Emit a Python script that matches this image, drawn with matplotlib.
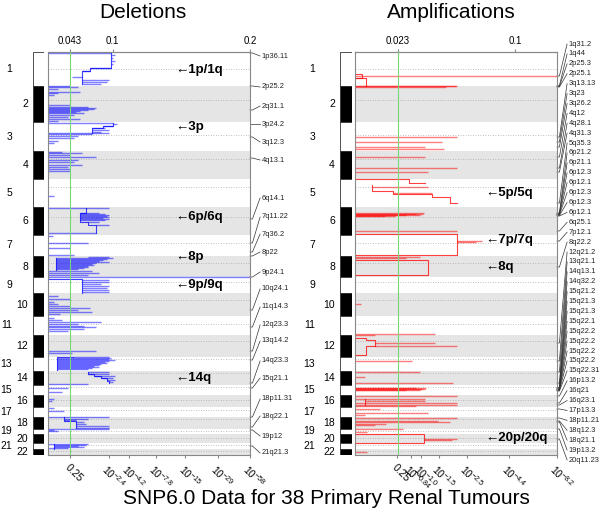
import numpy as np
import matplotlib
matplotlib.use("Agg")
import matplotlib.pyplot as plt
from matplotlib.transforms import blended_transform_factory

plt.rcParams['font.family'] = ['Liberation Sans', 'DejaVu Sans']
plt.rcParams['mathtext.fontset'] = 'custom'
plt.rcParams['mathtext.rm'] = 'Liberation Sans'
plt.rcParams['mathtext.it'] = 'Liberation Sans:italic'

# chromosome layout (height of each chromosome on the genome axis)
chrom_names = [str(i) for i in range(1, 23)]
chrom_sizes = [34, 36, 29, 28, 28, 28, 21, 21, 16, 23, 19, 22, 14, 14, 10, 12, 10, 12, 5, 9, 6, 6]
centromere_frac = [0.5, 0.39, 0.45, 0.27, 0.27, 0.35, 0.37, 0.31, 0.33, 0.3, 0.4,
                   0.27, 0.14, 0.13, 0.15, 0.42, 0.3, 0.2, 0.45, 0.46, 0.3, 0.29]

# axis scales (position on the panel axis, 0..1)
del_top_ticks = [0.109, 0.32, 1.0]
del_top_labels = ['0.043', '0.1', '0.2']
del_bottom_ticks = [0.11, 0.30, 0.40, 0.535, 0.68, 0.84, 1.0]
del_bottom_labels = ['0.25', '$10^{-2.4}$', '$10^{-4.2}$', '$10^{-7.8}$',
                     '$10^{-15}$', '$10^{-29}$', '$10^{-58}$']
del_threshold = 0.109

amp_top_ticks = [0.213, 0.792]
amp_top_labels = ['0.023', '0.1']
amp_bottom_ticks = [0.208, 0.277, 0.327, 0.416, 0.554, 0.762, 1.0]
amp_bottom_labels = ['0.25', '$10^{-0.84}$', '$10^{-1.0}$', '$10^{-1.5}$',
                     '$10^{-2.5}$', '$10^{-4.4}$', '$10^{-8.2}$']
amp_threshold = 0.213

# deletion segments: (genome position, start, end)
del_segments = [
    (0.5, 0, 0.31), (3, 0.31, 0.33), (6, 0.31, 0.32), (9, 0.31, 0.33), (12, 0.31, 0.32),
    (16, 0.21, 0.31), (19, 0.17, 0.21), (25, 0.12, 0.17), (28, 0.17, 0.30), (30, 0.17, 0.29),
    (32, 0.17, 0.26), (34, 0, 0.11), (35, 0, 0.15),
    (37, 0, 0.05), (40, 0, 0.16), (41, 0, 0.05), (43, 0, 0.03), (53, 0, 0.11), (55, 0, 0.2),
    (56, 0, 0.24), (57, 0, 0.23), (58, 0, 0.2), (59, 0, 0.16), (60, 0, 0.14), (61, 0, 0.18),
    (63, 0, 0.13), (65, 0, 0.1), (67, 0, 0.16), (69, 0, 0.05),
    (70.5, 0, 0.32), (72, 0.32, 0.34), (74, 0.27, 0.32), (76, 0.22, 0.28), (78, 0.22, 0.30),
    (80, 0.22, 0.26), (81, 0, 0.30), (82, 0, 0.22), (84, 0, 0.15), (86, 0, 0.13),
    (89, 0, 0.05), (91, 0, 0.03),
    (100, 0, 0.07), (101, 0, 0.17), (103, 0, 0.11), (105, 0, 0.24), (108, 0, 0.15),
    (110, 0, 0.13), (113, 0, 0.17), (115, 0, 0.10), (117, 0, 0.11), (119, 0, 0.11),
    (144, 0, 0.03),
    (155.5, 0, 0.30), (161, 0.16, 0.25), (162, 0.16, 0.28), (163, 0.16, 0.30),
    (164, 0.16, 0.29), (165, 0.16, 0.30), (166, 0.16, 0.27), (167, 0.16, 0.30),
    (168, 0.16, 0.28), (170, 0.2, 0.25), (173, 0.24, 0.30), (181, 0, 0.24),
    (184, 0, 0.025), (191, 0, 0.2), (196, 0, 0.11),
    (203, 0, 0.13), (205, 0.2, 0.3), (206, 0.04, 0.32), (207, 0.04, 0.29), (208, 0.04, 0.27),
    (209, 0.04, 0.25), (210, 0.04, 0.3), (211, 0.04, 0.24), (212, 0.04, 0.22),
    (213, 0.04, 0.23), (214, 0.04, 0.2), (215, 0.04, 0.2), (216, 0.04, 0.18),
    (217, 0.04, 0.15), (219, 0, 0.22), (221, 0, 0.25), (223, 0, 0.2),
    (225, 0, 1.0),
    (228, 0.168, 0.3), (230, 0.168, 0.3), (232, 0.168, 0.26), (234, 0.168, 0.3),
    (236, 0.168, 0.29), (238, 0.168, 0.3), (240, 0.168, 0.3),
    (244, 0, 0.05), (247, 0, 0.11), (250, 0, 0.03), (252, 0, 0.05), (254, 0, 0.11),
    (256, 0, 0.21), (258, 0, 0.15), (260, 0, 0.22), (262, 0, 0.06),
    (266, 0, 0.03), (268, 0, 0.07), (270, 0, 0.26), (272, 0, 0.15), (274, 0, 0.18),
    (275, 0, 0.24), (277, 0, 0.18), (279, 0, 0.1),
    (299, 0, 0.24), (301, 0, 0.12),
    (305, 0.125, 0.30), (306, 0.045, 0.31), (307, 0.045, 0.30), (308, 0.045, 0.33),
    (309, 0.045, 0.30), (310, 0.045, 0.28), (311, 0.045, 0.29), (312, 0.045, 0.26),
    (313, 0.045, 0.25), (314, 0.045, 0.23), (315, 0.045, 0.25), (316, 0.045, 0.22),
    (317, 0.045, 0.2),
    (320, 0.2, 0.3), (322, 0.2, 0.3), (324, 0.23, 0.33), (326, 0.26, 0.32),
    (328, 0.29, 0.33), (330, 0.3, 0.32), (332, 0, 0.2),
    (336, 0, 0.10), (340, 0, 0.07), (347, 0, 0.03), (349, 0, 0.02),
    (356, 0, 0.03), (359, 0, 0.08),
    (365, 0, 0.3), (367, 0.08, 0.2), (368, 0.08, 0.14), (370, 0.14, 0.18),
    (372, 0.14, 0.19), (374, 0.14, 0.3), (376, 0.14, 0.3), (377, 0, 0.3),
    (378, 0, 0.03), (379, 0, 0.05),
    (392, 0, 0.2), (393, 0.03, 0.19), (394, 0.03, 0.15), (395, 0.03, 0.18), (396, 0, 0.10),
]
del_steps = [
    [(0.31, 0.5), (0.31, 16), (0.21, 16), (0.21, 19), (0.17, 19), (0.17, 32)],
    [(0.32, 70.5), (0.32, 74), (0.27, 74), (0.27, 76), (0.22, 76), (0.22, 81)],
    [(0.19, 155.5), (0.19, 161), (0.16, 161), (0.16, 170), (0.2, 170), (0.2, 173),
     (0.24, 173), (0.24, 181)],
    [(0.04, 206), (0.04, 218)],
    [(0, 227), (0.168, 227), (0.168, 241)],
    [(0.125, 305), (0.045, 305), (0.045, 318)],
    [(0.2, 320), (0.2, 322), (0.23, 322), (0.23, 324), (0.26, 324), (0.26, 326),
     (0.29, 326), (0.29, 329), (0.30, 329), (0.30, 331)],
    [(0.08, 365), (0.08, 369), (0.14, 369), (0.14, 376)],
    [(0.03, 392), (0.03, 397)],
]

# amplification segments
amp_segments = [
    (24, 0, 1.0), (33.5, 0, 0.5), (34, 0, 0.505), (34.5, 0, 0.45),
    (85, 0, 0.505), (90, 0, 0.43), (95, 0, 0.347), (97, 0, 0.44),
    (105, 0, 0.347), (116, 0, 0.505), (120, 0, 0.36),
    (135, 0.084, 0.36), (141, 0.188, 0.38),
    (161, 0, 0.34), (161.5, 0, 0.3), (162, 0, 0.337), (162.5, 0, 0.25), (163, 0, 0.32),
    (163.5, 0, 0.2), (164, 0, 0.15), (179, 0, 0.505),
    (189, 0.505, 0.63), (189.5, 0.505, 0.6),
    (205, 0, 0.32), (206, 0, 0.25),
    (252, 0, 0.03),
    (282, 0, 0.396), (283, 0, 0.1), (291, 0.1, 0.396), (294, 0.1, 0.505),
    (309, 0, 0.282),
    (320, 0, 0.322), (325, 0, 0.05), (331, 0, 0.485),
    (335.5, 0, 0.3), (336, 0, 0.35), (336.5, 0, 0.347), (337, 0, 0.33), (337.5, 0, 0.32),
    (338, 0, 0.25),
    (344, 0, 0.505), (347, 0, 0.347), (349, 0.05, 0.347), (351, 0, 0.505),
    (353, 0, 0.505), (354, 0, 0.3),
    (357, 0, 0.124), (361, 0, 0.36), (363, 0, 0.05),
    (366, 0, 0.505), (369, 0, 0.41), (370, 0, 0.47), (372, 0, 0.153), (373, 0, 0.1),
    (377, 0, 0.238), (380, 0, 0.06),
    (387, 0.342, 0.505), (387.5, 0.342, 0.48),
    (400, 0, 0.06),
]
amp_steps = [
    [(0, 22), (0.035, 22), (0.035, 26), (0, 26)],
    [(0, 26), (0.054, 26), (0.054, 34)],
    [(0, 127), (0.267, 127), (0.267, 131), (0.347, 131)],
    [(0.084, 133), (0.084, 139), (0.188, 139), (0.188, 142), (0.381, 142), (0.381, 145),
     (0.47, 145), (0.47, 151), (0.505, 151)],
    [(0, 182), (0.505, 182), (0.505, 203), (0, 203)],
    [(0, 208), (0.36, 208), (0.36, 223), (0, 223)],
    [(0, 286), (0.054, 286), (0.054, 288), (0.1, 288), (0.1, 294)],
    [(0.1, 294), (0.054, 294), (0.054, 303), (0, 303)],
    [(0.05, 347), (0.05, 353)],
    [(0, 382), (0.342, 382), (0.342, 391), (0, 391)],
]

# cytoband labels
del_labels = ['1p36.11', '2p25.2', '2q31.1', '3p24.2', '3q12.3', '4q13.1', '6q14.1',
              '7q11.22', '7q36.2', '8p22', '9p24.1', '10q24.1', '11q14.3', '12q23.3',
              '13q14.2', '14q23.3', '15q21.1', '18p11.31', '18q22.1', '19p12', '21q21.3']
del_label_feature = [1, 34, 58, 72, 85, 106, 167, 191, 200, 204, 225, 258, 275, 299,
                     308, 331, 336, 365, 375, 378, 394]
del_label_pos = [4, 35, 54, 72, 90, 108, 146, 165, 182, 200, 220, 237, 255, 273,
                 289, 309, 326, 347, 364, 384, 401]

amp_labels = ['1q31.2', '1q44', '2p25.3', '2p25.1', '3q13.13', '3q23', '3q26.2', '4q12',
              '4q28.1', '4q31.3', '5q35.3', '6p21.2', '6p21.1', '6p12.3', '6p12.1',
              '6p12.3', '6p12.3', '6p12.1', '6q25.1', '7p12.1', '8q22.2', '12q21.2',
              '13q21.1', '14q13.1', '14q32.2', '15q21.2', '15q21.3', '15q21.3', '15q22.1',
              '15q22.2', '15q22.2', '15q22.2', '15q22.2', '15q22.31', '16p13.2', '16q21',
              '16q23.1', '17p13.3', '18p11.21', '18q12.3', '18q21.1', '19p13.2', '20q11.23']
amp_label_feature = [24, 33.5, 34.5, 35, 85, 90, 95, 105, 116, 120, 151, 161, 161.5, 162,
                     162.5, 163, 163.5, 164, 179, 189, 215, 291, 309, 320, 331, 335.5, 336,
                     336.5, 337, 337.5, 338, 338, 338.5, 339, 344, 351, 353, 357, 366, 369,
                     370, 377, 387]

del_arrows = [('1p/1q', 18), ('3p', 75), ('6p/6q', 165), ('8p', 205), ('9p/9q', 233), ('14q', 326)]
amp_arrows = [('5p/5q', 141), ('7p/7q', 188), ('8q', 215), ('20p/20q', 386)]

chrom_starts = np.concatenate([[0], np.cumsum(chrom_sizes)[:-1]])
genome_len = sum(chrom_sizes)

fig = plt.figure(figsize=(6, 5.12), dpi=100)
H = 512.0
W = 600.0
bottom = 1 - 455 / H
height = 403 / H


def draw_ideogram(ax, odd_x, even_x):
    cols = ['white' if i % 2 == 0 else 'black' for i in range(len(chrom_sizes))]
    ax.barh(chrom_starts + np.array(chrom_sizes) / 2, 1, height=chrom_sizes, left=0,
            color=cols, edgecolor='#333333', linewidth=0.6)
    ax.set_xlim(0, 1)
    ax.set_ylim(genome_len, 0)
    ax.axis('off')
    tr = blended_transform_factory(ax.transAxes, ax.transData)
    for i, name in enumerate(chrom_names):
        x = odd_x if i % 2 == 0 else even_x
        ax.text(x, chrom_starts[i] + chrom_sizes[i] / 2, name, transform=tr,
                ha='right', va='center', fontsize=7.5)


def draw_panel(ax, segs, steps, color, threshold, top_ticks, top_labels,
               bot_ticks, bot_labels, labels, feats, label_pos, arrows, arrow_x):
    for i in range(len(chrom_sizes)):
        if i % 2 == 1:
            ax.axhspan(chrom_starts[i], chrom_starts[i] + chrom_sizes[i],
                       color='#e5e5e5', lw=0, zorder=0)
    cen = chrom_starts + np.array(centromere_frac) * np.array(chrom_sizes)
    ax.hlines(cen, 0, 1, colors='#aaaaaa', linestyles=(0, (1, 2)), lw=0.6, zorder=1)

    ys = [s[0] for s in segs]
    x0 = [s[1] for s in segs]
    x1 = [s[2] for s in segs]
    ax.hlines(ys, x0, x1, colors=color, alpha=0.5, lw=1.0, zorder=2)
    for st in steps:
        ax.plot([p[0] for p in st], [p[1] for p in st], color=color, alpha=0.75,
                lw=0.8, zorder=2)
    ax.axvline(threshold, color='#77d677', lw=0.8, zorder=3)

    ax.set_xlim(0, 1)
    ax.set_ylim(genome_len, 0)
    ax.set_yticks([])
    ax.set_xticks(bot_ticks)
    ax.set_xticklabels(bot_labels, rotation=-45, ha='left', va='top',
                       rotation_mode='anchor', fontsize=7.5)
    ax.tick_params(axis='x', length=2, color='#888888', pad=3)
    for sp in ax.spines.values():
        sp.set_color('#888888')
        sp.set_linewidth(0.8)
    sec = ax.secondary_xaxis('top')
    sec.set_xticks(top_ticks)
    sec.set_xticklabels(top_labels, fontsize=7)
    sec.tick_params(length=2, color='#888888', pad=2)
    sec.spines['top'].set_color('#888888')

    for lab, f, p in zip(labels, feats, label_pos):
        ax.plot([1.0, 1.012, 1.05], [f, f, p], color='#333333', lw=0.5, clip_on=False)
        ax.text(1.058, p, lab, fontsize=5.4, va='center', ha='left', color='#222222')

    for txt, y in arrows:
        ax.text(arrow_x, y, '\u2190' + txt, fontsize=9.5, fontweight='bold',
                va='center', ha='left', zorder=4)


ideo_del = fig.add_axes([33 / W, bottom, 11 / W, height])
draw_ideogram(ideo_del, -1.9, -0.45)
ax_del = fig.add_axes([48 / W, bottom, 202 / W, height])
draw_panel(ax_del, del_segments, del_steps, '#0000ff', del_threshold,
           del_top_ticks, del_top_labels, del_bottom_ticks, del_bottom_labels,
           del_labels, del_label_feature, del_label_pos, del_arrows, 0.629)

ideo_amp = fig.add_axes([340 / W, bottom, 12 / W, height])
draw_ideogram(ideo_amp, -2.08, -0.42)
ax_amp = fig.add_axes([355 / W, bottom, 202 / W, height])
amp_label_pos = np.linspace(-8, 408, len(amp_labels))
draw_panel(ax_amp, amp_segments, amp_steps, '#ff0000', amp_threshold,
           amp_top_ticks, amp_top_labels, amp_bottom_ticks, amp_bottom_labels,
           amp_labels, amp_label_feature, amp_label_pos, amp_arrows, 0.644)

fig.text(143 / W, 1 - 12 / H, 'Deletions', ha='center', va='center', fontsize=15)
fig.text(451 / W, 1 - 12 / H, 'Amplifications', ha='center', va='center', fontsize=15)
fig.text(326 / W, 1 - 498 / H, 'SNP6.0 Data for 38 Primary Renal Tumours',
         ha='center', va='center', fontsize=15)

fig.savefig('out.png', dpi=100)
